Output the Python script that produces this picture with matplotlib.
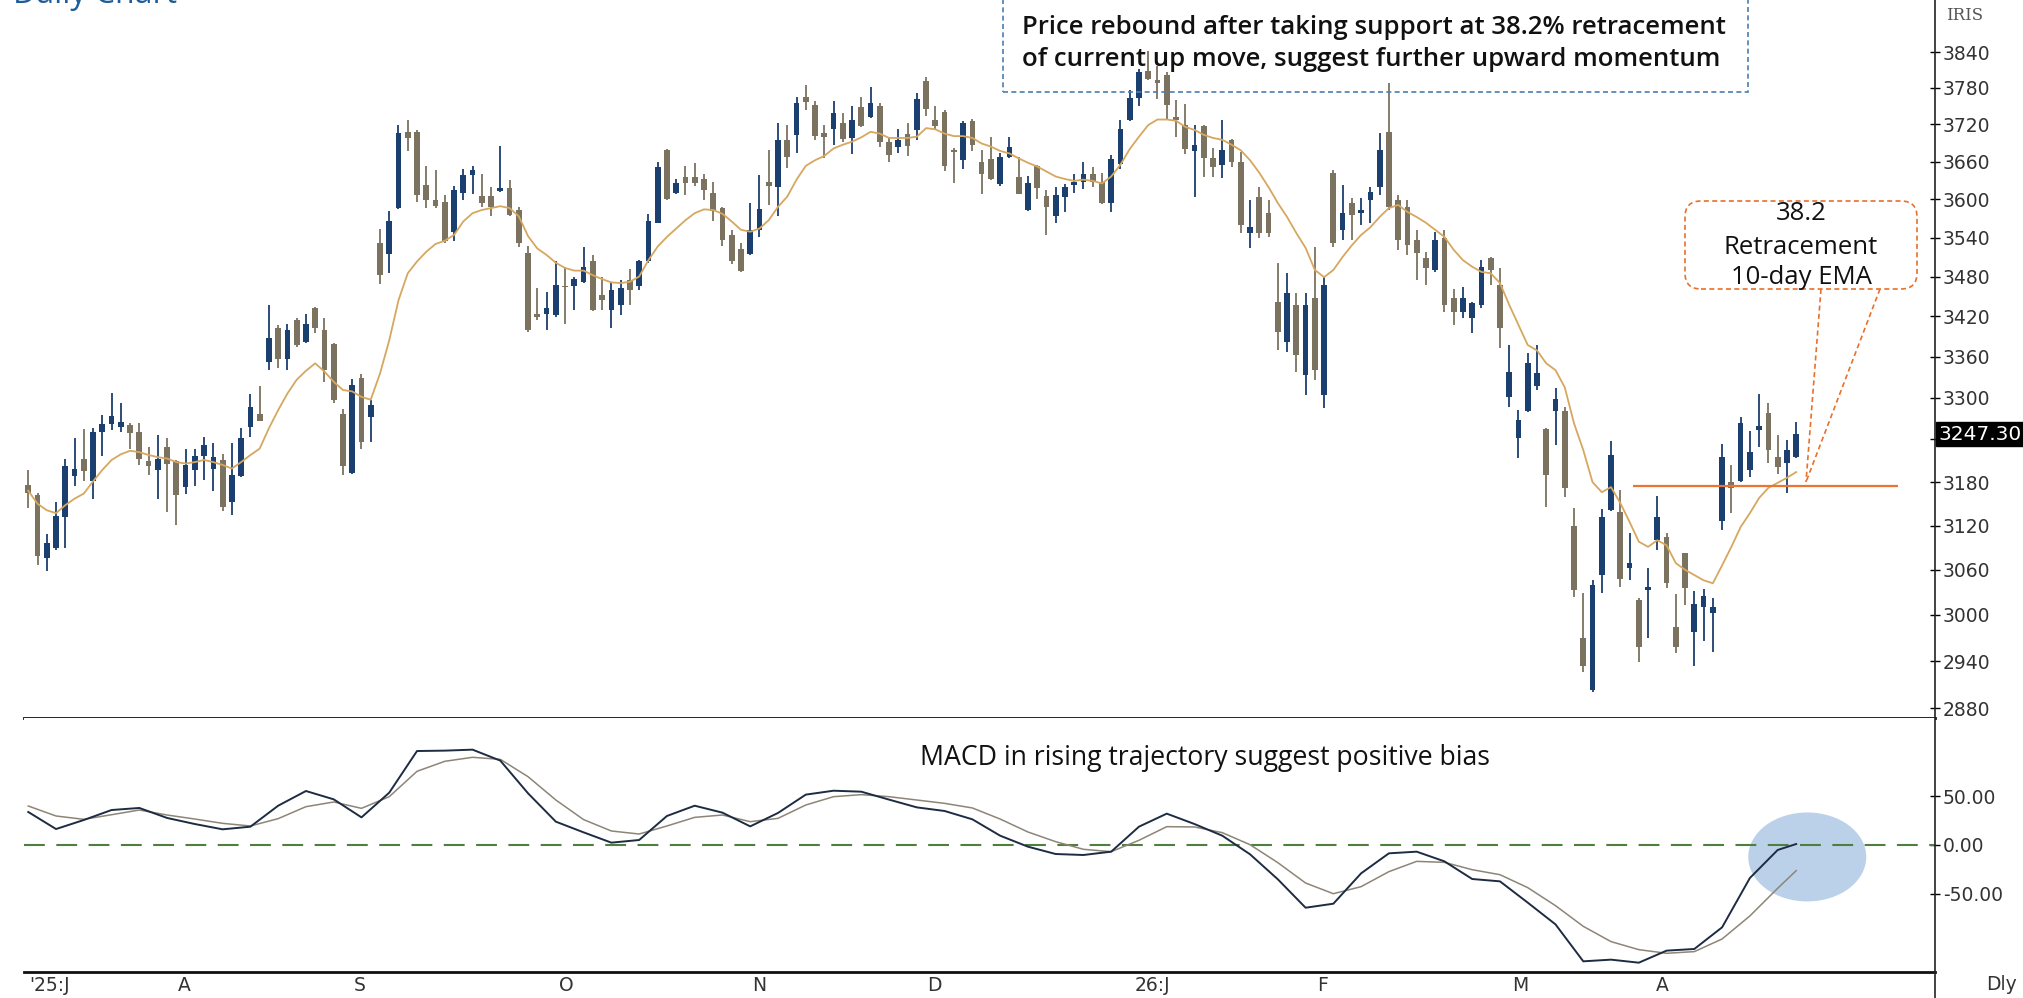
import matplotlib
matplotlib.use("Agg")
import matplotlib.pyplot as plt
import numpy as np
from matplotlib.patches import Ellipse, Rectangle, FancyBboxPatch
from matplotlib.lines import Line2D
from matplotlib.transforms import IdentityTransform
from matplotlib.ticker import FixedLocator, NullLocator, FuncFormatter

# ---- daily candles (IRIS) ----
opens = [3176, 3162, 3076, 3089, 3132, 3189, 3212, 3181, 3250, 3262,
         3258, 3261, 3250, 3209, 3197, 3230, 3209, 3173, 3197, 3216,
         3199, 3211, 3153, 3189, 3258, 3277, 3352, 3402, 3357, 3414,
         3382, 3432, 3399, 3378, 3277, 3193, 3328, 3272, 3531, 3515,
         3586, 3708, 3707, 3623, 3598, 3596, 3549, 3610, 3639, 3605,
         3605, 3613, 3617, 3583, 3516, 3423, 3424, 3422, 3466, 3465,
         3471, 3503, 3452, 3429, 3437, 3475, 3465, 3504, 3563, 3679,
         3610, 3636, 3635, 3632, 3610, 3586, 3544, 3522, 3514, 3552,
         3628, 3619, 3695, 3703, 3765, 3752, 3706, 3712, 3723, 3698,
         3748, 3732, 3750, 3692, 3683, 3705, 3711, 3792, 3727, 3741,
         3679, 3663, 3725, 3660, 3664, 3624, 3667, 3636, 3583, 3652,
         3605, 3574, 3604, 3623, 3628, 3640, 3628, 3594, 3656, 3727,
         3763, 3809, 3793, 3802, 3732, 3719, 3677, 3717, 3666, 3655,
         3695, 3659, 3547, 3604, 3578, 3441, 3381, 3437, 3333, 3447,
         3304, 3642, 3552, 3594, 3578, 3599, 3619, 3708, 3599, 3588,
         3536, 3508, 3490, 3539, 3447, 3426, 3417, 3437, 3508, 3467,
         3301, 3242, 3281, 3317, 3255, 3281, 3281, 3119, 2970, 2903,
         3053, 3141, 3139, 3063, 3020, 3033, 3100, 3104, 2984, 3083,
         2978, 3011, 3003, 3126, 3180, 3182, 3197, 3254, 3278, 3215,
         3207, 3215]
highs = [3197, 3165, 3109, 3153, 3213, 3242, 3255, 3257, 3275, 3307,
         3292, 3264, 3263, 3230, 3246, 3242, 3211, 3227, 3227, 3243,
         3235, 3219, 3235, 3256, 3305, 3317, 3437, 3407, 3408, 3417,
         3424, 3434, 3417, 3380, 3283, 3327, 3334, 3296, 3553, 3582,
         3719, 3727, 3711, 3653, 3646, 3607, 3621, 3648, 3653, 3640,
         3619, 3685, 3631, 3587, 3527, 3462, 3457, 3503, 3495, 3480,
         3526, 3513, 3480, 3472, 3475, 3491, 3505, 3577, 3660, 3680,
         3632, 3653, 3658, 3640, 3628, 3588, 3552, 3531, 3594, 3639,
         3678, 3723, 3719, 3765, 3785, 3759, 3719, 3759, 3738, 3750,
         3765, 3782, 3755, 3699, 3712, 3723, 3771, 3799, 3750, 3744,
         3681, 3726, 3729, 3679, 3699, 3674, 3699, 3667, 3637, 3655,
         3615, 3620, 3624, 3640, 3660, 3651, 3641, 3671, 3727, 3777,
         3811, 3842, 3817, 3807, 3760, 3754, 3719, 3719, 3682, 3727,
         3697, 3675, 3599, 3619, 3599, 3501, 3486, 3455, 3455, 3525,
         3479, 3647, 3623, 3602, 3602, 3619, 3706, 3788, 3607, 3599,
         3552, 3518, 3549, 3552, 3461, 3464, 3441, 3505, 3510, 3493,
         3377, 3282, 3365, 3377, 3257, 3314, 3286, 3144, 3029, 3046,
         3143, 3238, 3169, 3110, 3022, 3063, 3161, 3110, 3028, 3083,
         3032, 3034, 3022, 3234, 3204, 3272, 3252, 3305, 3292, 3246,
         3239, 3265]
lows = [3144, 3067, 3059, 3087, 3089, 3174, 3181, 3157, 3216, 3254,
        3250, 3227, 3204, 3190, 3157, 3139, 3121, 3164, 3174, 3183,
        3167, 3140, 3135, 3187, 3244, 3266, 3340, 3343, 3340, 3374,
        3380, 3395, 3323, 3292, 3190, 3191, 3227, 3237, 3469, 3486,
        3584, 3677, 3596, 3586, 3586, 3531, 3534, 3599, 3609, 3588,
        3573, 3612, 3573, 3526, 3397, 3414, 3399, 3419, 3408, 3429,
        3470, 3428, 3429, 3402, 3422, 3437, 3460, 3501, 3562, 3599,
        3609, 3607, 3621, 3599, 3566, 3527, 3499, 3487, 3513, 3541,
        3591, 3573, 3649, 3674, 3744, 3695, 3665, 3687, 3692, 3672,
        3716, 3730, 3683, 3660, 3674, 3669, 3695, 3734, 3711, 3644,
        3626, 3648, 3677, 3608, 3631, 3621, 3665, 3608, 3582, 3601,
        3544, 3563, 3580, 3610, 3616, 3620, 3592, 3580, 3648, 3726,
        3750, 3793, 3761, 3727, 3699, 3672, 3604, 3636, 3635, 3634,
        3651, 3547, 3524, 3539, 3541, 3370, 3367, 3337, 3304, 3326,
        3285, 3525, 3536, 3536, 3560, 3563, 3607, 3583, 3521, 3513,
        3475, 3467, 3487, 3426, 3407, 3417, 3395, 3432, 3467, 3372,
        3286, 3214, 3279, 3311, 3145, 3232, 3159, 3024, 2926, 2900,
        3029, 3140, 3037, 3046, 2939, 2970, 3087, 3036, 2951, 3013,
        2933, 2966, 2952, 3114, 3137, 3180, 3187, 3229, 3207, 3191,
        3165, 3214]
closes = [3165, 3078, 3096, 3133, 3202, 3199, 3196, 3251, 3262, 3273,
          3265, 3249, 3213, 3202, 3213, 3206, 3162, 3204, 3217, 3232,
          3215, 3146, 3190, 3242, 3287, 3267, 3387, 3357, 3400, 3377,
          3408, 3402, 3340, 3296, 3202, 3318, 3237, 3289, 3483, 3565,
          3706, 3698, 3607, 3599, 3589, 3534, 3615, 3639, 3647, 3594,
          3587, 3617, 3575, 3531, 3399, 3419, 3432, 3467, 3464, 3476,
          3495, 3429, 3444, 3459, 3462, 3460, 3503, 3565, 3651, 3600,
          3626, 3626, 3626, 3614, 3582, 3536, 3503, 3489, 3552, 3585,
          3621, 3695, 3667, 3755, 3756, 3701, 3699, 3739, 3696, 3727,
          3718, 3755, 3692, 3671, 3694, 3685, 3761, 3745, 3718, 3652,
          3676, 3723, 3687, 3640, 3632, 3668, 3683, 3609, 3625, 3617,
          3588, 3607, 3620, 3628, 3640, 3628, 3594, 3664, 3712, 3763,
          3806, 3795, 3789, 3752, 3727, 3680, 3687, 3665, 3651, 3679,
          3659, 3560, 3557, 3547, 3547, 3396, 3455, 3362, 3437, 3340,
          3467, 3532, 3578, 3575, 3583, 3612, 3679, 3588, 3536, 3529,
          3516, 3493, 3536, 3437, 3426, 3447, 3440, 3495, 3490, 3402,
          3337, 3268, 3351, 3336, 3190, 3298, 3172, 3033, 2934, 3040,
          3132, 3218, 3048, 3069, 2958, 3037, 3132, 3042, 2958, 3036,
          3014, 3025, 3011, 3215, 3172, 3264, 3222, 3259, 3225, 3201,
          3225, 3247.3]
# 10-day EMA as drawn on the chart
ema10 = [3168, 3150, 3141, 3137, 3148, 3157, 3164, 3181, 3197, 3211,
         3219, 3224, 3222, 3218, 3215, 3213, 3208, 3206, 3208, 3211,
         3208, 3204, 3199, 3208, 3218, 3227, 3256, 3282, 3306, 3326,
         3339, 3350, 3338, 3323, 3311, 3309, 3301, 3297, 3335, 3384,
         3444, 3485, 3503, 3518, 3530, 3535, 3544, 3565, 3578, 3583,
         3586, 3589, 3586, 3573, 3542, 3523, 3513, 3501, 3493, 3489,
         3489, 3482, 3476, 3471, 3470, 3472, 3480, 3505, 3526, 3541,
         3554, 3567, 3578, 3584, 3583, 3577, 3565, 3552, 3549, 3554,
         3567, 3588, 3604, 3631, 3653, 3662, 3669, 3681, 3687, 3692,
         3699, 3708, 3705, 3698, 3698, 3698, 3700, 3714, 3712, 3705,
         3701, 3701, 3698, 3689, 3684, 3677, 3673, 3665, 3658, 3652,
         3644, 3636, 3632, 3629, 3631, 3629, 3625, 3636, 3655, 3680,
         3700, 3719, 3728, 3728, 3726, 3716, 3711, 3703, 3698, 3695,
         3687, 3678, 3662, 3642, 3619, 3594, 3572, 3547, 3524, 3490,
         3479, 3490, 3510, 3528, 3544, 3556, 3572, 3586, 3591, 3580,
         3572, 3563, 3552, 3541, 3521, 3505, 3495, 3487, 3485, 3470,
         3437, 3407, 3377, 3369, 3350, 3340, 3315, 3263, 3225, 3180,
         3166, 3173, 3151, 3125, 3098, 3091, 3100, 3093, 3069, 3060,
         3053, 3046, 3042, 3066, 3091, 3118, 3137, 3158, 3172, 3179,
         3186, 3194]

# MACD panel, read every 3rd session
macd_idx = list(range(0, 190, 3)) + [191]
macd = [33.7, 16.3, 25.5, 35.7, 37.8, 27.6, 21.4, 16.0, 18.7, 40.1,
        55.1, 46.6, 28.2, 53.4, 95.9, 96.3, 97.3, 86.1, 52.7, 23.8,
        12.9, 2.4, 5.1, 29.6, 40.1, 33.0, 19.0, 32.7, 51.4, 55.4,
        54.4, 46.3, 38.4, 34.7, 26.2, 9.5, -1.7, -9.2, -10.2, -6.8,
        18.7, 32.0, 21.4, 9.5, -9.5, -35.0, -64.0, -59.9, -28.9, -8.5,
        -6.8, -16.7, -34.7, -37.1, -58.8, -81.0, -118.7, -117.0, -120.1, -107.8,
        -106.1, -84.0, -33.7, -5.1, 1.0]
signal = [39.8, 29.6, 26.2, 30.9, 35.7, 30.6, 26.5, 22.1, 19.4, 26.9,
          39.1, 43.9, 37.4, 49.3, 75.2, 85.4, 89.5, 87.4, 69.7, 45.9,
          25.9, 14.3, 11.2, 19.4, 28.2, 30.6, 23.8, 27.2, 40.8, 49.3,
          51.4, 49.3, 45.9, 42.5, 37.8, 26.5, 13.3, 3.4, -4.4, -6.8,
          4.8, 18.7, 18.4, 12.6, 0.3, -18.0, -38.8, -49.7, -42.5, -27.2,
          -16.7, -17.7, -25.2, -30.3, -43.5, -61.9, -83.0, -98.6, -106.8, -110.5,
          -108.8, -95.9, -72.4, -44.2, -26.2]

month_labels = ["'25:J", "A", "S", "O", "N", "D", "26:J", "F", "M", "A"]
month_pos = [2.3, 16.9, 35.8, 58.1, 79.0, 97.9, 121.5, 139.8, 161.2, 176.5]
price_ticks = list(range(2880, 3841, 60))
macd_ticks = [-50, 0, 50]
retracement = 3175
last_price = 3247.30

W, H = 2024, 998
fig = plt.figure(figsize=(W / 100, H / 100), dpi=100)
fig.patch.set_facecolor("white")

def fx(px):
    return px / W

def fy(py):
    return 1 - py / H

ax = fig.add_axes([fx(24), fy(718), fx(1935) - fx(24), 718 / H])
ax2 = fig.add_axes([fx(24), fy(972), fx(1935) - fx(24), (972 - 718) / H], sharex=ax)

o = np.array(opens, float)
hi = np.array(highs, float)
lo = np.array(lows, float)
c = np.array(closes, float)
x = np.arange(len(o))
up_col, dn_col = "#1b3f6e", "#7b735f"
cols = np.where(c >= o, up_col, dn_col)

ax.vlines(x, lo, hi, colors=cols, lw=1.3, zorder=2)
ax.bar(x, np.maximum(np.abs(c - o), 1.5), bottom=np.minimum(o, c), width=0.62,
       color=cols, zorder=3, linewidth=0)
ax.plot(x, ema10, color="#d6a75e", lw=1.3, zorder=4)
ax.hlines(retracement, 173.4, 202, color="#ec7432", lw=1.6, zorder=5)

ax.set_yscale("log")
ax.set_ylim(2867.5, 3928.6)
ax.set_xlim(-0.46, 206.0)
ax.yaxis.set_major_locator(FixedLocator(price_ticks))
ax.yaxis.set_minor_locator(NullLocator())
# the 3240 label sits under the last-price tag
ax.yaxis.set_major_formatter(FuncFormatter(lambda v, p: "" if abs(v - 3240) < 1 else f"{v:.0f}"))
ax.yaxis.tick_right()
ax.tick_params(axis="y", direction="inout", length=7, width=1, labelsize=13.5,
               labelcolor="#333333", pad=2)
ax.tick_params(axis="x", bottom=False, labelbottom=False)
for s in ["top", "left"]:
    ax.spines[s].set_visible(False)
ax.spines["bottom"].set_linewidth(2.0)
ax.spines["bottom"].set_color("#111111")
ax.spines["right"].set_color("#222222")
ax.spines["right"].set_linewidth(1.2)

# last price tag
ax.text(1.002, last_price, f"{last_price:.2f}", transform=ax.get_yaxis_transform(),
        ha="left", va="center", fontsize=14.5, color="white",
        bbox=dict(boxstyle="square,pad=0.12", fc="black", ec="black"), clip_on=False)

# MACD panel
ax2.add_patch(Ellipse((192.2, -12.2), 12.75, 90.8, facecolor="#b8cfe9",
                      edgecolor="none", alpha=0.95, zorder=1))
ax2.axhline(0, color="#4f7f3f", lw=1.5, dashes=(10, 5.5), zorder=2)
ax2.plot(macd_idx, signal, color="#8d8577", lw=1.1, zorder=3)
ax2.plot(macd_idx, macd, color="#1d2c42", lw=1.4, zorder=4)
ax2.set_ylim(-129.6, 129.6)
ax2.yaxis.tick_right()
ax2.set_yticks(macd_ticks)
ax2.yaxis.set_major_formatter(FuncFormatter(lambda v, p: f"{v:.2f}"))
ax2.tick_params(axis="y", direction="inout", length=7, width=1, labelsize=13.5,
                labelcolor="#333333", pad=2)
ax2.set_xticks(month_pos)
ax2.set_xticklabels(month_labels)
ax2.tick_params(axis="x", length=0, labelsize=13.5, labelcolor="#333333", pad=3)
for s in ["top", "left"]:
    ax2.spines[s].set_visible(False)
ax2.spines["bottom"].set_linewidth(2.0)
ax2.spines["bottom"].set_color("#111111")
ax2.spines["right"].set_color("#222222")
ax2.spines["right"].set_linewidth(1.2)

# right axis line runs to the bottom edge
fig.add_artist(Line2D([fx(1935), fx(1935)], [fy(972), 0], color="#222222", lw=1.2))

fig.text(fx(1946), fy(16), "IRIS", fontsize=12, family="DejaVu Serif",
         color="#555555", ha="left", va="center")
fig.text(fx(1986), fy(984), "Dly", fontsize=13.5, color="#333333", ha="left", va="center")
fig.text(fx(13), fy(3), "Daily Chart", fontsize=23, color="#1f5c99",
         ha="left", va="baseline", family="Open Sans")

# comment boxes
pix = IdentityTransform()
note_font = dict(family="Open Sans", color="#111111", fontsize=18.5)
fig.add_artist(Rectangle((1003, H - 92), 745, 120, transform=pix, fill=False,
                         ec="#4d7db3", lw=1.2, ls=(0, (3, 2))))
fig.text(fx(1022), fy(28), "Price rebound after taking support at 38.2% retracement",
         weight="semibold", va="center", **note_font)
fig.text(fx(1022), fy(60), "of current up move, suggest further upward momentum",
         weight="semibold", va="center", **note_font)

fig.add_artist(FancyBboxPatch((1685, H - 289), 232, 88, transform=pix,
                              boxstyle="round,pad=0,rounding_size=16", fill=False,
                              ec="#e8702a", lw=1.2, ls=(0, (3, 2))))
for txt, yy in [("38.2", 214), ("Retracement", 247), ("10-day EMA", 278)]:
    fig.text(fx(1801), fy(yy), txt, ha="center", va="center", **note_font)
for x0 in (1821, 1880):
    fig.add_artist(Line2D([x0, 1806], [H - 289, H - 482], transform=pix,
                          color="#e8702a", lw=1.2, ls=(0, (3, 2))))

fig.text(fx(920), fy(758), "MACD in rising trajectory suggest positive bias",
         va="center", family="Open Sans", color="#111111", fontsize=19.2)

fig.savefig("out.png", dpi=100, facecolor="white")
